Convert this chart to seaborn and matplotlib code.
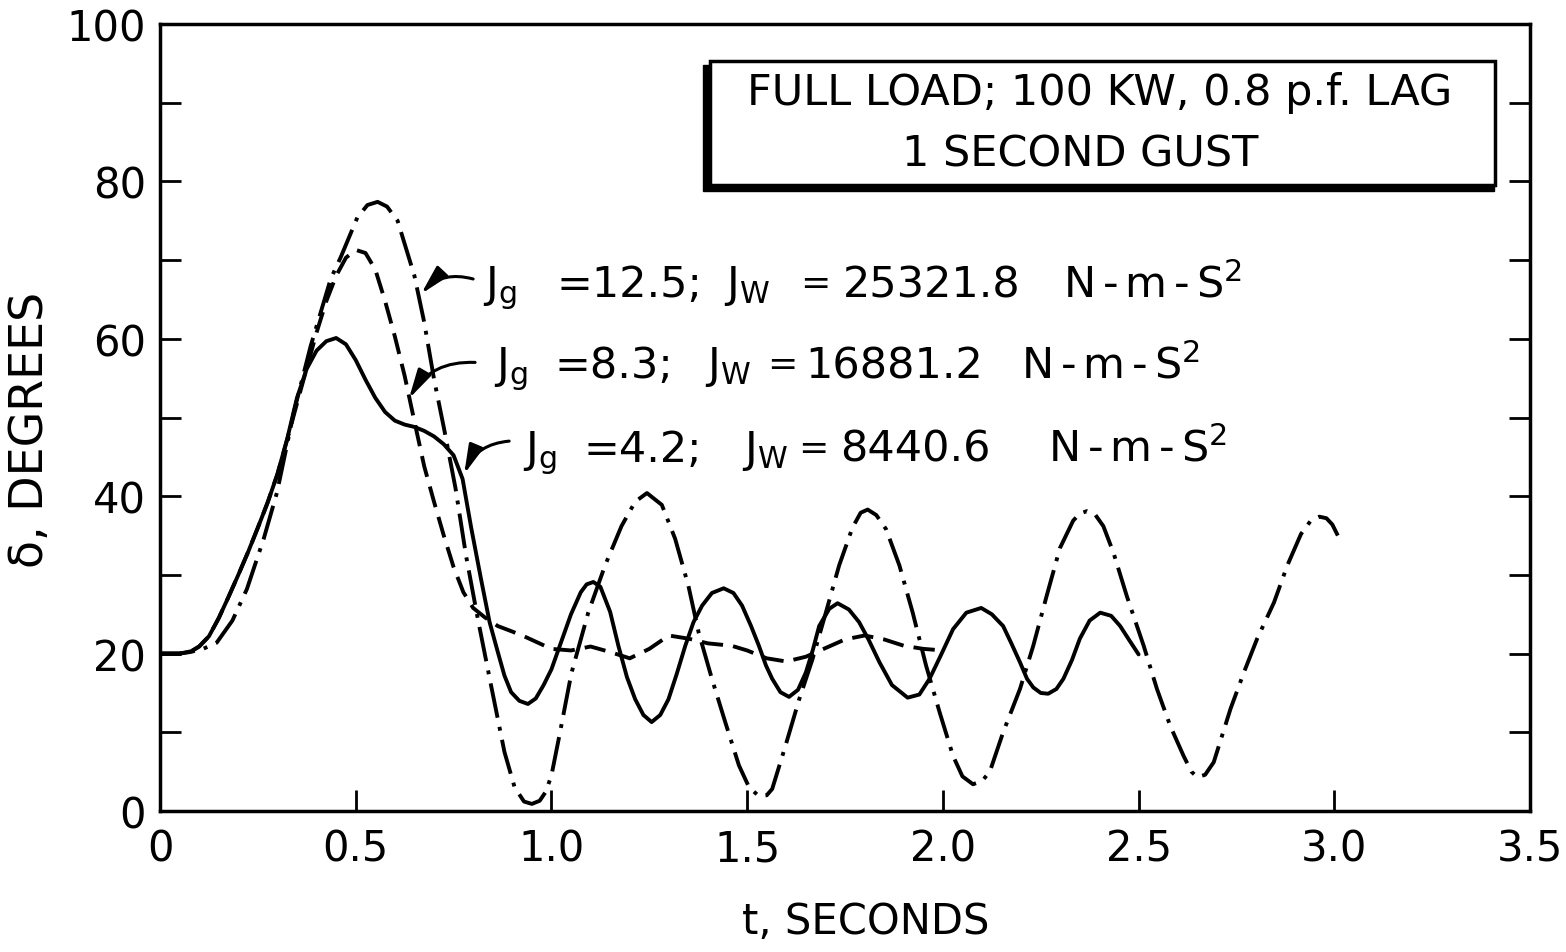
import numpy as np
import pandas as pd
import matplotlib
matplotlib.use("Agg")
import matplotlib.pyplot as plt
import seaborn as sns
from matplotlib.patches import Rectangle

# ---- data ----
labels = ["Jg=12.5", "Jg=8.3", "Jg=4.2"]

t_125 = [0, 0.05, 0.077, 0.11, 0.145, 0.185, 0.222, 0.265, 0.299, 0.342, 0.385, 0.436, 0.462,
         0.504, 0.53, 0.556, 0.58, 0.607, 0.65, 0.675, 0.70, 0.726, 0.755, 0.782, 0.812, 0.846,
         0.88, 0.906, 0.93, 0.95, 0.97, 0.985, 1.0, 1.02, 1.051, 1.094, 1.137, 1.179, 1.214,
         1.244, 1.282, 1.316, 1.35, 1.376, 1.41, 1.444, 1.479, 1.505, 1.53, 1.55, 1.564, 1.598,
         1.633, 1.667, 1.701, 1.735, 1.769, 1.79, 1.808, 1.83, 1.855, 1.889, 1.923, 1.957, 1.992,
         2.026, 2.05, 2.077, 2.1, 2.12, 2.154, 2.197, 2.231, 2.265, 2.299, 2.333, 2.35, 2.368,
         2.39, 2.41, 2.436, 2.47, 2.513, 2.547, 2.581, 2.615, 2.635, 2.65, 2.67, 2.692, 2.735,
         2.769, 2.803, 2.846, 2.88, 2.915, 2.94, 2.962, 2.98, 2.995, 3.009]
d_125 = [20, 20, 20.2, 20.6, 21.4, 24.2, 28.2, 34.6, 40.5, 50.7, 59.1, 67.6, 70.4,
         75.4, 77.0, 77.4, 76.8, 75.0, 68.0, 62.1, 54.9, 48.5, 41.0, 32.4, 24.4, 15.9,
         7.5, 3.0, 1.2, 0.9, 1.3, 2.4, 4.5, 9.5, 17.5, 25.2, 31.2, 36.2, 39.3,
         40.4, 38.9, 34.6, 28.6, 22.7, 16.8, 11.3, 5.8, 3.0, 1.9, 2.0, 2.8, 8.3,
         14.2, 19.3, 25.2, 31.2, 36.0, 37.9, 38.3, 37.6, 35.8, 31.2, 25.2, 18.5, 12.5,
         7.0, 4.4, 3.4, 3.8, 5.0, 10.0, 15.5, 21.0, 27.3, 33.4, 36.9, 37.8, 38.1,
         37.6, 36.2, 32.8, 27.3, 21.0, 15.5, 10.8, 7.0, 5.0, 4.3, 4.6, 6.2, 13.0,
         17.6, 21.9, 26.5, 31.2, 35.2, 36.9, 37.4, 37.2, 36.4, 35.0]

t_83 = [0, 0.05, 0.08, 0.10, 0.125, 0.15, 0.175, 0.20, 0.225, 0.25, 0.275, 0.30, 0.325, 0.35,
        0.375, 0.40, 0.425, 0.45, 0.475, 0.50, 0.525, 0.55, 0.575, 0.60, 0.625, 0.65, 0.675,
        0.70, 0.725, 0.75, 0.775, 0.80, 0.83, 0.863, 0.90, 0.93, 0.965, 1.0, 1.05, 1.10, 1.15,
        1.20, 1.25, 1.30, 1.35, 1.40, 1.46, 1.50, 1.55, 1.60, 1.65, 1.70, 1.75, 1.80, 1.85,
        1.90, 1.95, 2.0]
d_83 = [20, 20, 20.3, 20.9, 22.2, 24.5, 27.2, 30, 32.9, 36, 39.2, 42.8, 47.2, 51.8,
        56.3, 60.8, 64.8, 68.0, 70.3, 71.3, 70.9, 68.8, 64.8, 60.3, 55.3, 49.5, 43.8,
        39.3, 35.0, 31.0, 27.8, 25.8, 24.6, 23.5, 22.8, 22.2, 21.4, 20.6, 20.4, 20.9, 20.2,
        19.4, 20.6, 22.3, 21.9, 21.3, 21.0, 20.4, 19.4, 19.0, 19.6, 20.7, 21.8, 22.3, 21.8,
        21.0, 20.6, 20.4]

t_42 = [0, 0.05, 0.08, 0.10, 0.125, 0.15, 0.175, 0.20, 0.225, 0.25, 0.275, 0.30, 0.325, 0.35,
        0.375, 0.40, 0.425, 0.45, 0.475, 0.50, 0.525, 0.55, 0.575, 0.60, 0.625, 0.65, 0.675,
        0.70, 0.725, 0.75, 0.773, 0.795, 0.82, 0.842, 0.863, 0.88, 0.897, 0.918, 0.94, 0.96,
        0.98, 1.0, 1.025, 1.05, 1.075, 1.09, 1.107, 1.125, 1.15, 1.171, 1.193, 1.214, 1.235,
        1.256, 1.278, 1.299, 1.32, 1.342, 1.363, 1.385, 1.41, 1.44, 1.465, 1.487, 1.51, 1.53,
        1.548, 1.564, 1.585, 1.607, 1.63, 1.65, 1.668, 1.684, 1.71, 1.731, 1.76, 1.786, 1.81,
        1.838, 1.87, 1.91, 1.94, 1.966, 1.995, 2.026, 2.06, 2.098, 2.125, 2.154, 2.175, 2.197,
        2.215, 2.231, 2.25, 2.269, 2.29, 2.308, 2.33, 2.35, 2.375, 2.402, 2.43, 2.453, 2.475, 2.5]
d_42 = [20, 20, 20.3, 20.9, 22.2, 24.5, 27.2, 30, 32.9, 36, 39.2, 42.8, 47.3, 52.5,
        56.2, 58.5, 59.7, 60.1, 59.3, 57.3, 54.8, 52.5, 50.7, 49.6, 49.1, 48.8, 48.3,
        47.6, 46.6, 45.2, 42.2, 36.0, 29.5, 24.0, 20.2, 17.2, 15.1, 14.0, 13.6, 14.3,
        16.0, 18.0, 21.5, 25.0, 27.8, 28.8, 29.1, 28.5, 25.3, 21.0, 17.0, 14.2, 12.2,
        11.3, 12.2, 14.2, 17.4, 21.0, 24.0, 26.1, 27.7, 28.3, 27.7, 26.1, 23.5, 21.0,
        18.5, 16.8, 15.1, 14.5, 15.4, 17.6, 20.5, 23.5, 25.7, 26.4, 25.6, 24.0, 21.8,
        18.9, 16.0, 14.4, 14.8, 16.8, 19.8, 23.1, 25.2, 25.8, 25.0, 23.5, 21.3, 18.9,
        16.8, 15.7, 15.0, 14.9, 15.5, 16.8, 19.2, 21.9, 24.2, 25.2, 24.8, 23.5, 21.8, 19.9]

x_ticks = [0, 0.5, 1.0, 1.5, 2.0, 2.5, 3.0, 3.5]
x_ticklabels = ["0", "0.5", "1.0", "1.5", "2.0", "2.5", "3.0", "3.5"]
y_ticks = [0, 20, 40, 60, 80, 100]
y_ticklabels = ["0", "20", "40", "60", "80", "100"]

jg_values = ["12.5", "8.3", "4.2"]
jw_values = ["25321.8", "16881.2", "8440.6"]

df = pd.concat([
    pd.DataFrame({"t": t_125, "delta": d_125, "case": labels[0]}),
    pd.DataFrame({"t": t_83, "delta": d_83, "case": labels[1]}),
    pd.DataFrame({"t": t_42, "delta": d_42, "case": labels[2]}),
], ignore_index=True)

sns.set_style("white")
plt.rcParams["font.family"] = ["DejaVu Sans"]
plt.rcParams["mathtext.fontset"] = "dejavusans"
for k in ["text.color", "axes.labelcolor", "xtick.color", "ytick.color", "axes.edgecolor"]:
    plt.rcParams[k] = "black"

fig = plt.figure(figsize=(15.66, 9.53), dpi=100)
ax = fig.add_axes([160 / 1566, 1 - 812 / 953, 1370 / 1566, 787 / 953])

dash_map = {labels[0]: (9, 2.4, 1, 2.4), labels[1]: (5.5, 2.6), labels[2]: ""}
sns.lineplot(data=df, x="t", y="delta", style="case", dashes=dash_map, color="black",
             linewidth=2.8, estimator=None, legend=False, ax=ax)

ax.set_xlim(0, 3.5)
ax.set_ylim(0, 100)
ax.set_xticks(x_ticks)
ax.set_xticklabels(x_ticklabels)
ax.set_yticks(y_ticks)
ax.set_yticklabels(y_ticklabels)
ax.set_yticks(np.arange(0, 101, 10), minor=True)
ax.tick_params(axis="both", which="both", direction="in", length=15, width=2,
               labelsize=30, color="black", labelcolor="black")
ax.tick_params(axis="x", which="both", bottom=True, top=False, pad=12)
ax.tick_params(axis="y", which="both", left=True, right=True, pad=10)
for s in ax.spines.values():
    s.set_linewidth(2.5)
    s.set_color("black")

ax.set_xlabel("t, SECONDS", fontsize=30)
ax.set_ylabel("δ, DEGREES", fontsize=33)
ax.xaxis.set_label_coords(0.515, -0.113)
ax.yaxis.set_label_coords(-0.078, 0.485)

# title box with shadow
ax.add_patch(Rectangle((1.387, 78.8), 2.02, 16.0, facecolor="black", edgecolor="black",
                       lw=1, zorder=4))
ax.add_patch(Rectangle((1.405, 79.5), 2.005, 15.8, facecolor="white", edgecolor="black",
                       lw=2.5, zorder=5))
ax.text(2.40, 91.3, "FULL LOAD; 100 KW, 0.8 p.f. LAG", ha="center", va="center",
        fontsize=31, zorder=6)
ax.text(2.35, 83.5, "1 SECOND GUST", ha="center", va="center", fontsize=31, zorder=6)

# curve labels, placed piece by piece
ann_fs = 31
label_rows = [
    # (baseline y, x of "Jg", x of "=value;", x of "Jw", x of "=", x of value, x of units)
    (65.4, 0.826, 1.013, 1.441, 1.636, 1.744, 2.308),
    (55.1, 0.854, 1.008, 1.392, 1.552, 1.649, 2.200),
    (44.5, 0.928, 1.082, 1.487, 1.630, 1.738, 2.269),
]
units = r"N$\,$-$\,$m$\,$-$\,$S$^\mathregular{2}$"
for (yb, xa, xa2, xb, xb2, xc, xd), jg, jw in zip(label_rows, jg_values, jw_values):
    kw = dict(ha="left", va="baseline", fontsize=ann_fs)
    ax.text(xa, yb, r"$\mathregular{J_g}$", **kw)
    ax.text(xa2, yb, "=" + jg + ";", **kw)
    ax.text(xb, yb, r"$\mathregular{J_W}$", **kw)
    ax.text(xb2, yb + 0.4, "=", ha="left", va="baseline", fontsize=26)
    ax.text(xc, yb, jw, **kw)
    ax.text(xd, yb, units, **kw)

arrow_kw = dict(arrowstyle="-|>,head_length=0.8,head_width=0.2", connectionstyle="arc3,rad=0.3",
                lw=2.2, color="black", mutation_scale=22, shrinkA=0, shrinkB=0)
ax.annotate("", xy=(0.667, 65.7), xytext=(0.80, 67.6), arrowprops=arrow_kw)
ax.annotate("", xy=(0.636, 52.4), xytext=(0.805, 57.0), arrowprops=arrow_kw)
ax.annotate("", xy=(0.777, 42.8), xytext=(0.892, 47.0), arrowprops=arrow_kw)

fig.savefig("out.png", dpi=100)
